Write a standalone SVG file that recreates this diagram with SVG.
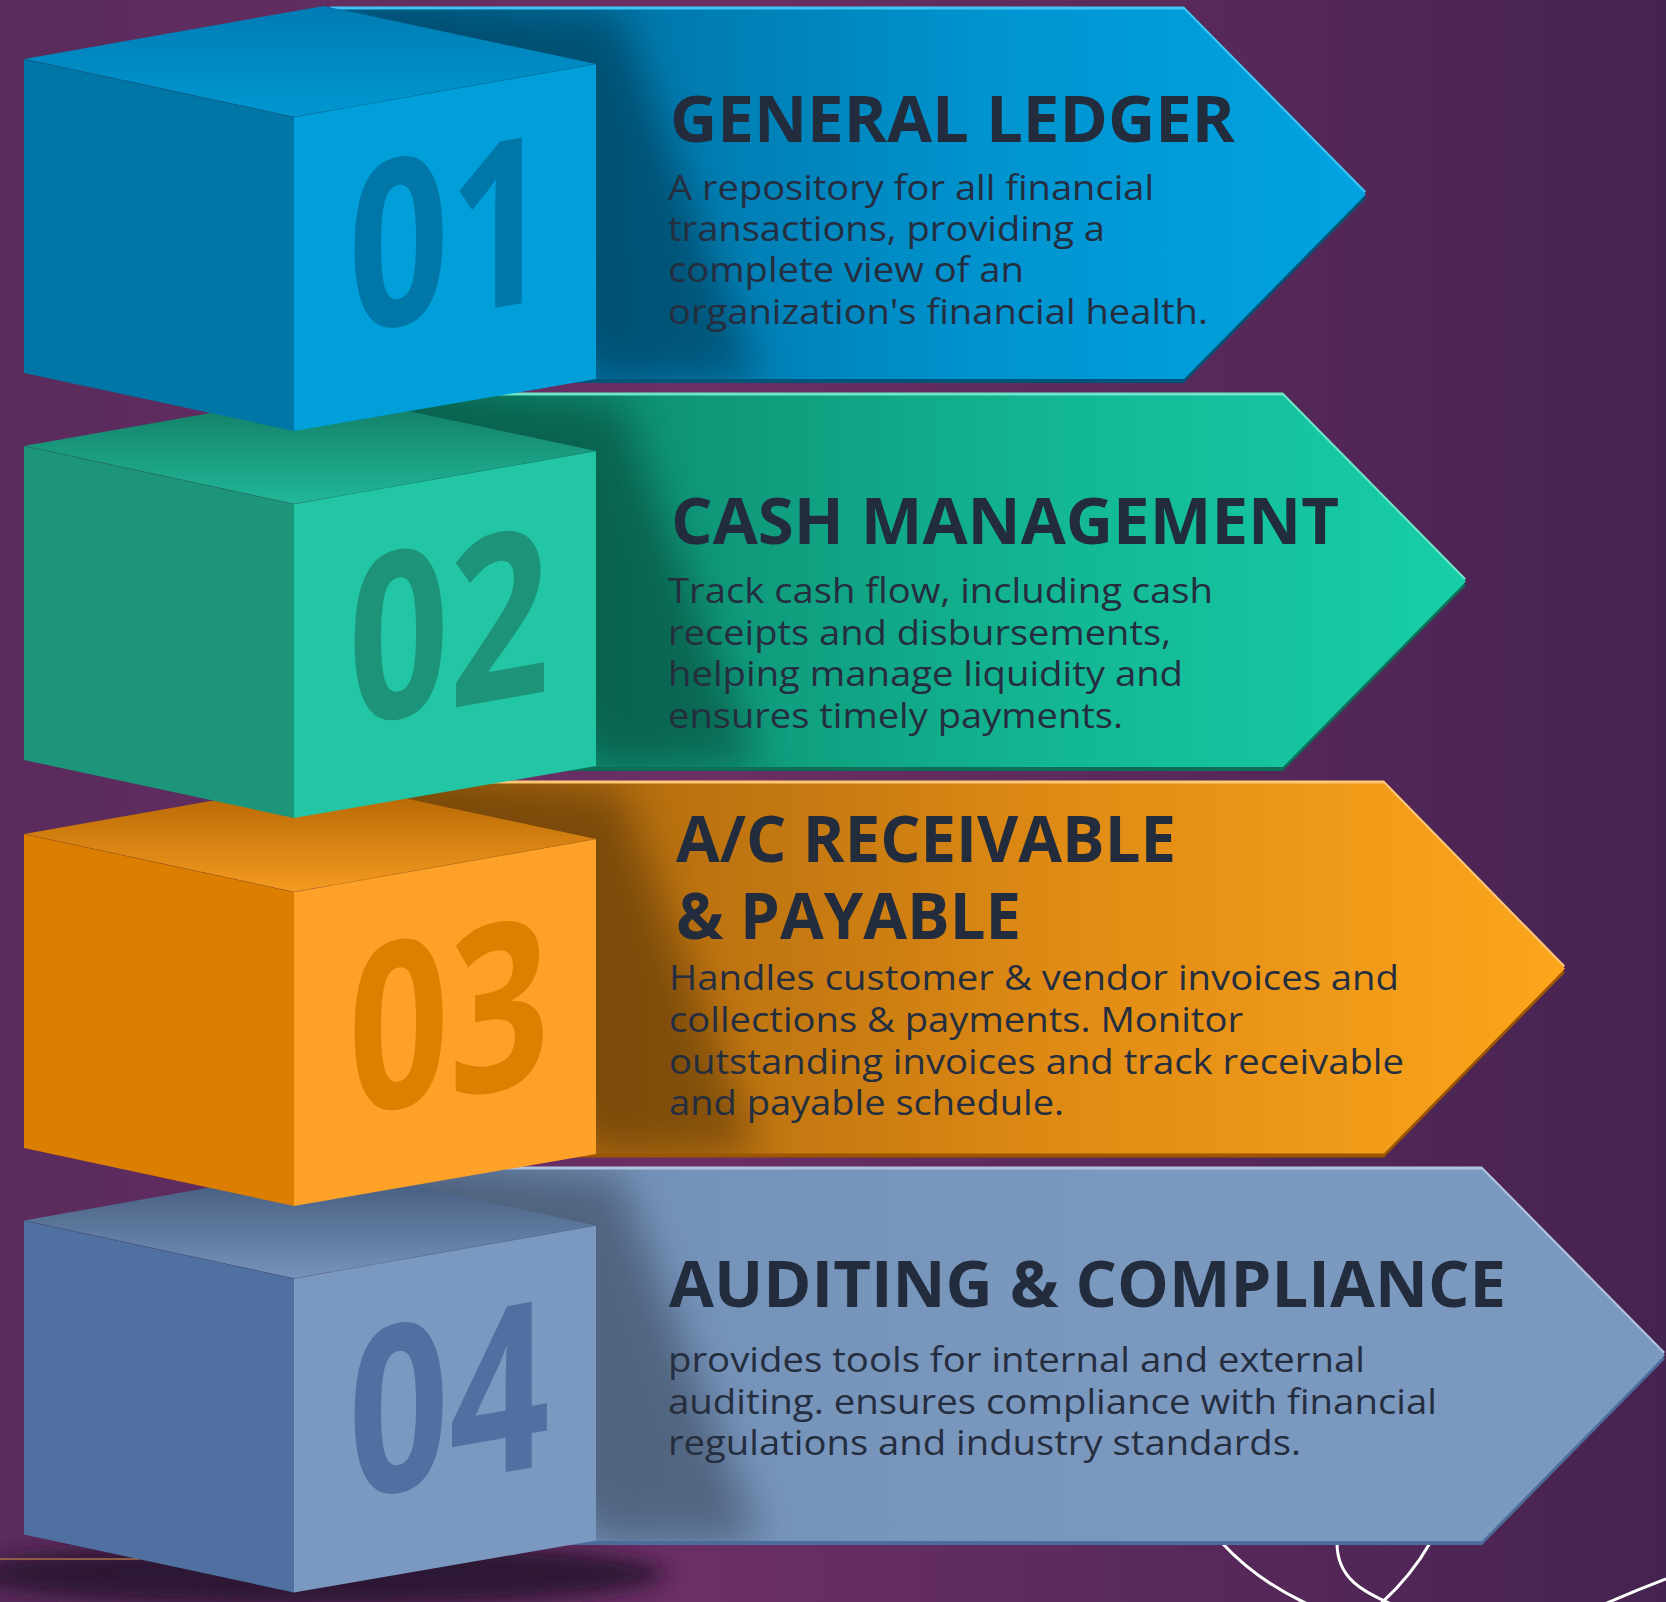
<svg xmlns="http://www.w3.org/2000/svg" xmlns:xlink="http://www.w3.org/1999/xlink" width="1666" height="1602" viewBox="0 0 1666 1602">
<defs>
<style>
.title{font-family:"Open Sans","Liberation Sans",sans-serif;font-weight:700;font-size:64px;fill:#222c3c}
.body{font-family:"Open Sans","Liberation Sans",sans-serif;font-weight:400;font-size:34px;fill:#252e3f}
.num{font-family:"Open Sans","Liberation Sans",sans-serif;font-weight:700;font-size:232px;text-anchor:middle}
.curve{fill:none;stroke:#ffffff;stroke-width:3}
.edge{fill:none;stroke:#000;stroke-opacity:0.12;stroke-width:1}
.shade{fill:#000;opacity:0.3}
</style>
<linearGradient id="bg" x1="0" y1="0" x2="1" y2="0">
<stop offset="0" stop-color="#5a2b5c"/>
<stop offset="0.42" stop-color="#6b2f65"/>
<stop offset="1" stop-color="#452350"/>
</linearGradient>
<filter id="blur" x="-50%" y="-50%" width="200%" height="200%"><feGaussianBlur stdDeviation="20"/></filter>
<filter id="blurS" x="-50%" y="-50%" width="200%" height="200%"><feGaussianBlur stdDeviation="10"/></filter>

<linearGradient id="ga1" x1="0" y1="0" x2="1" y2="0"><stop offset="0" stop-color="#0070a2"/><stop offset="0.26" stop-color="#0074a6"/><stop offset="0.65" stop-color="#0095d1"/><stop offset="1" stop-color="#00a3e0"/></linearGradient>
<linearGradient id="ga2" x1="0" y1="0" x2="1" y2="0"><stop offset="0" stop-color="#0c8a6f"/><stop offset="0.26" stop-color="#0e9073"/><stop offset="0.65" stop-color="#13b894"/><stop offset="1" stop-color="#17cea8"/></linearGradient>
<linearGradient id="ga3" x1="0" y1="0" x2="1" y2="0"><stop offset="0" stop-color="#ad680c"/><stop offset="0.22" stop-color="#b26c0f"/><stop offset="0.6" stop-color="#e08b14"/><stop offset="1" stop-color="#fca61c"/></linearGradient>
<linearGradient id="ga4" x1="0" y1="0" x2="1" y2="0"><stop offset="0" stop-color="#6f8bb2"/><stop offset="0.26" stop-color="#7592b9"/><stop offset="0.6" stop-color="#7b98bf"/><stop offset="1" stop-color="#7b98bf"/></linearGradient>

<linearGradient id="gt1" x1="0" y1="0" x2="0" y2="1"><stop offset="0" stop-color="#007cb3"/><stop offset="1" stop-color="#0097d1"/></linearGradient>
<linearGradient id="gt2" x1="0" y1="0" x2="0" y2="1"><stop offset="0" stop-color="#127862"/><stop offset="1" stop-color="#21b898"/></linearGradient>
<linearGradient id="gt3" x1="0" y1="0" x2="0" y2="1"><stop offset="0" stop-color="#b06200"/><stop offset="1" stop-color="#f59b22"/></linearGradient>
<linearGradient id="gt4" x1="0" y1="0" x2="0" y2="1"><stop offset="0" stop-color="#3f5677"/><stop offset="1" stop-color="#7693bb"/></linearGradient>

<polygon id="ar1" points="330,9.5 1184,9.5 1366,194.3 1184,379 330,379"/>
<polygon id="ar2" points="330,395.5 1283,395.5 1466,581.5 1283,767 330,767"/>
<polygon id="ar3" points="330,783.5 1384,783.5 1565,968.5 1384,1153.5 330,1153.5"/>
<polygon id="ar4" points="330,1169.5 1482,1169.5 1665,1355 1482,1541 330,1541"/>
<clipPath id="c1"><use xlink:href="#ar1"/></clipPath>
<clipPath id="c2"><use xlink:href="#ar2"/></clipPath>
<clipPath id="c3"><use xlink:href="#ar3"/></clipPath>
<clipPath id="c4"><use xlink:href="#ar4"/></clipPath>
</defs>

<rect x="0" y="0" width="1666" height="1602" fill="url(#bg)"/>

<g id="decor">
<path class="curve" d="M1222,1543 Q1258,1582 1312,1606"/>
<path class="curve" d="M1337,1543 C1337,1578 1362,1592 1396,1606"/>
<path class="curve" d="M1430,1543 Q1410,1578 1378,1606"/>
<path class="curve" d="M1666,1579 Q1632,1592 1600,1606"/>
<ellipse cx="320" cy="1574" rx="345" ry="32" fill="#2a1430" opacity="0.95" filter="url(#blurS)"/>
<line x1="0" y1="1559" x2="140" y2="1559" stroke="#a87048" stroke-width="1.5"/>
</g>

<g id="connectors"></g>

<!-- STEP 4 -->
<g id="step4">
<use xlink:href="#ar4" fill="#4c6c9c" transform="translate(0,4)"/>
<use xlink:href="#ar4" fill="#b0c4e0" transform="translate(0,-3)"/>
<use xlink:href="#ar4" fill="url(#ga4)"/>
<g clip-path="url(#c4)"><polygon class="shade" opacity="0.25" filter="url(#blur)" points="320,1151 620,1176 760,1541 596,1541"/></g>
<text class="title" x="669" y="1307" textLength="837" lengthAdjust="spacingAndGlyphs">AUDITING &amp; COMPLIANCE</text>
<text class="body" x="668" y="1372" textLength="697" lengthAdjust="spacingAndGlyphs">provides tools for internal and external</text>
<text class="body" x="668" y="1413.5" textLength="769" lengthAdjust="spacingAndGlyphs">auditing. ensures compliance with financial</text>
<text class="body" x="668" y="1455" textLength="633" lengthAdjust="spacingAndGlyphs">regulations and industry standards.</text>
<polygon fill="url(#gt4)" points="24,1220.5 324,1167 596,1225.5 294,1278.5"/>
<polygon fill="#4f70a0" points="24,1220.5 294,1278.5 294,1592.5 24,1534.5"/>
<polygon fill="#7a98c0" points="294,1278.5 596,1225.5 596,1540.5 294,1592.5"/>
<polyline class="edge" points="24,1220.5 294,1278.5 596,1225.5"/>
<text class="num" fill="#4f70a0" transform="translate(449,1482) skewY(-10) scale(0.76,1)">04</text>
</g>

<!-- STEP 3 -->
<g id="step3">
<use xlink:href="#ar3" fill="#9c5500" transform="translate(0,4)"/>
<use xlink:href="#ar3" fill="#ffc877" transform="translate(0,-3)"/>
<use xlink:href="#ar3" fill="url(#ga3)"/>
<g clip-path="url(#c3)"><polygon class="shade" filter="url(#blur)" points="320,765 620,790 760,1154 596,1154"/></g>
<text class="title" x="676" y="862" textLength="500" lengthAdjust="spacingAndGlyphs">A/C RECEIVABLE</text>
<text class="title" x="676" y="938.5" textLength="345" lengthAdjust="spacingAndGlyphs">&amp; PAYABLE</text>
<text class="body" x="669" y="990" textLength="730" lengthAdjust="spacingAndGlyphs">Handles customer &amp; vendor invoices and</text>
<text class="body" x="669" y="1032" textLength="574" lengthAdjust="spacingAndGlyphs">collections &amp; payments. Monitor</text>
<text class="body" x="669" y="1073.5" textLength="735" lengthAdjust="spacingAndGlyphs">outstanding invoices and track receivable</text>
<text class="body" x="669" y="1115" textLength="395" lengthAdjust="spacingAndGlyphs">and payable schedule.</text>
<polygon fill="url(#gt3)" points="24,834 324,781 596,839 294,892"/>
<polygon fill="#dc7e00" points="24,834 294,892 294,1206 24,1148"/>
<polygon fill="#fea129" points="294,892 596,839 596,1154 294,1206"/>
<polyline class="edge" points="24,834 294,892 596,839"/>
<text class="num" fill="#dd8000" transform="translate(449,1098.5) skewY(-10) scale(0.76,1)">03</text>
</g>

<!-- STEP 2 -->
<g id="step2">
<use xlink:href="#ar2" fill="#0d6e58" transform="translate(0,4)"/>
<use xlink:href="#ar2" fill="#6ee6c8" transform="translate(0,-3)"/>
<use xlink:href="#ar2" fill="url(#ga2)"/>
<g clip-path="url(#c2)"><polygon class="shade" filter="url(#blur)" points="320,377 620,402 760,767 596,767"/></g>
<text class="title" x="671" y="543.5" textLength="668" lengthAdjust="spacingAndGlyphs">CASH MANAGEMENT</text>
<text class="body" x="668" y="603" textLength="545" lengthAdjust="spacingAndGlyphs">Track cash flow, including cash</text>
<text class="body" x="668" y="644.5" textLength="503" lengthAdjust="spacingAndGlyphs">receipts and disbursements,</text>
<text class="body" x="668" y="686" textLength="515" lengthAdjust="spacingAndGlyphs">helping manage liquidity and</text>
<text class="body" x="668" y="727.5" textLength="455" lengthAdjust="spacingAndGlyphs">ensures timely payments.</text>
<polygon fill="url(#gt2)" points="24,446 324,393 596,451 294,504"/>
<polygon fill="#1d957a" points="24,446 294,504 294,818 24,760"/>
<polygon fill="#22c6a4" points="294,504 596,451 596,766 294,818"/>
<polyline class="edge" points="24,446 294,504 596,451"/>
<text class="num" fill="#1d947a" transform="translate(449,708.5) skewY(-10) scale(0.76,1)">02</text>
</g>

<!-- STEP 1 -->
<g id="step1">
<use xlink:href="#ar1" fill="#005478" transform="translate(0,4)"/>
<use xlink:href="#ar1" fill="#3fc6f4" transform="translate(0,-3)"/>
<use xlink:href="#ar1" fill="url(#ga1)"/>
<g clip-path="url(#c1)"><polygon class="shade" filter="url(#blur)" points="320,-10 620,15 760,380 596,380"/></g>
<text class="title" x="670" y="142" textLength="565" lengthAdjust="spacingAndGlyphs">GENERAL LEDGER</text>
<text class="body" x="668" y="199.5" textLength="486" lengthAdjust="spacingAndGlyphs">A repository for all financial</text>
<text class="body" x="668" y="241" textLength="437" lengthAdjust="spacingAndGlyphs">transactions, providing a</text>
<text class="body" x="668" y="282" textLength="356" lengthAdjust="spacingAndGlyphs">complete view of an</text>
<text class="body" x="668" y="323.5" textLength="540" lengthAdjust="spacingAndGlyphs">organization's financial health.</text>
<polygon fill="url(#gt1)" points="24,59 324,6 596,64 294,117"/>
<polygon fill="#0076a6" points="24,59 294,117 294,431 24,373"/>
<polygon fill="#009fd9" points="294,117 596,64 596,379 294,431"/>
<polyline class="edge" points="24,59 294,117 596,64"/>
<text class="num" fill="#0077a8" transform="translate(449,316) skewY(-10) scale(0.76,1)">01</text>
</g>
</svg>
